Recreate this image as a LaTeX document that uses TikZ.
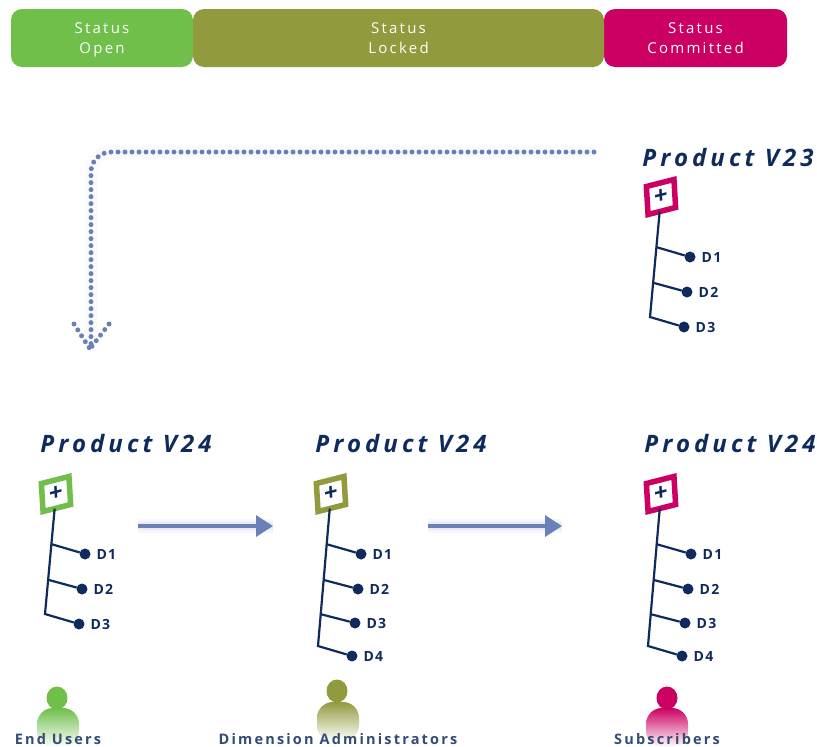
\documentclass[tikz,border=0pt]{standalone}
\usepackage{fontspec}
\setmainfont{Open Sans}
\newfontfamily\statusfont[LetterSpace=15]{Open Sans}
\newfontfamily\titlefont[LetterSpace=17]{Open Sans}
\newfontfamily\leaffont[LetterSpace=10]{Open Sans}
\newfontfamily\userfont[LetterSpace=15]{Open Sans}
\usetikzlibrary{arrows.meta,positioning,shapes.geometric}

\definecolor{openc}{HTML}{6FBF4A}
\definecolor{lockedc}{HTML}{919A3D}
\definecolor{committedc}{HTML}{CC0063}
\definecolor{navyc}{HTML}{0F2B5E}
\definecolor{flowc}{HTML}{6C80B8}

\begin{document}
\begin{tikzpicture}[x=1pt,y=-1pt,auto]

        \useasboundingbox (0,0) rectangle (817,747);

        \tikzstyle{every node}=[inner sep=0pt,outer sep=0pt]
        \tikzstyle{status}=[shape=rectangle,rounded corners=11pt,minimum height=58pt,align=center,text=white,font=\statusfont\fontsize{15}{20}\selectfont]
        \tikzstyle{title}=[text=navyc,font=\titlefont\fontsize{24}{26}\selectfont\bfseries\itshape]
        \tikzstyle{plus}=[shape=rectangle,draw,line width=5.5pt,fill=white,minimum size=28pt,xslant=-0.06,yslant=0.25,text=navyc,font=\fontsize{24}{24}\selectfont\bfseries]
        \tikzstyle{leaf}=[shape=circle,fill=navyc,minimum size=11pt]
        \tikzstyle{leaftext}=[text=navyc,font=\leaffont\fontsize{14}{16}\selectfont\bfseries]
        \tikzstyle{stem}=[draw=navyc,line width=2.2pt]
        \tikzstyle{flow}=[draw=flowc,line width=3.5pt,-{Triangle[length=17pt,width=21pt]},preaction={draw=flowc!50,line width=14pt,opacity=.12,-},preaction={draw=flowc!50,line width=8pt,opacity=.2,-}]
        \tikzstyle{dots}=[draw=flowc,line width=5pt,line cap=round,dash pattern=on 0pt off 7pt,rounded corners=20pt]
        \tikzstyle{userhead}=[shape=ellipse,minimum width=21pt,minimum height=23pt]
        \tikzstyle{userbody}=[shape=rectangle,rounded corners=16pt,minimum width=42pt,minimum height=39pt]
        \tikzstyle{username}=[text=navyc!85,font=\userfont\fontsize{14.5}{16}\selectfont\bfseries]

        % status bar
        \node[status,fill=openc,minimum width=182pt] (open) at (102,38) {Status\\\smash{Open}};
        \node[status,fill=committedc,minimum width=183pt] (committed) at (695.5,38) {Status\\Committed};
        \node[status,fill=lockedc,minimum width=411pt] (locked) at (398.5,38) {Status\\Locked};

        % V23
        \node[title] (T) at (728,157) {Product V23};
        \node[plus,draw=committedc] (P) at (661,197) {+};
        \coordinate (Pj1) at (656,247);
        \coordinate (Pj2) at (654,283);
        \coordinate (Pj3) at (650,317);
        \node[leaf] (P1) at (690,257) {};
        \node[leaf] (P2) at (687,292) {};
        \node[leaf] (P3) at (684,327) {};
        \node[leaftext] (P1t) [right=6pt of P1] {D1};
        \node[leaftext] (P2t) [right=6pt of P2] {D2};
        \node[leaftext] (P3t) [right=6pt of P3] {D3};
        \path [stem] (P) -- (Pj3) -- (P3);
        \path [stem] (Pj1) -- (P1);
        \path [stem] (Pj2) -- (P2);

        % V24 open
        \node[title] (TA) at (126,443) {Product V24};
        \node[plus,draw=openc] (A) at (56,494) {+};
        \coordinate (Aj1) at (51,544);
        \coordinate (Aj2) at (49,580);
        \coordinate (Aj3) at (45,614);
        \node[leaf] (A1) at (85,554) {};
        \node[leaf] (A2) at (82,589) {};
        \node[leaf] (A3) at (79,624) {};
        \node[leaftext] (A1t) [right=6pt of A1] {D1};
        \node[leaftext] (A2t) [right=6pt of A2] {D2};
        \node[leaftext] (A3t) [right=6pt of A3] {D3};
        \path [stem] (A) -- (Aj3) -- (A3);
        \path [stem] (Aj1) -- (A1);
        \path [stem] (Aj2) -- (A2);

        % V24 locked
        \node[title] (TB) at (401,443) {Product V24};
        \node[plus,draw=lockedc] (B) at (331,494) {+};
        \coordinate (Bj1) at (326,544);
        \coordinate (Bj2) at (324,580);
        \coordinate (Bj3) at (320,614);
        \coordinate (Bj4) at (318,646);
        \node[leaf] (B1) at (361,554) {};
        \node[leaf] (B2) at (358,589) {};
        \node[leaf] (B3) at (355,623) {};
        \node[leaf] (B4) at (352,656) {};
        \node[leaftext] (B1t) [right=6pt of B1] {D1};
        \node[leaftext] (B2t) [right=6pt of B2] {D2};
        \node[leaftext] (B3t) [right=6pt of B3] {D3};
        \node[leaftext] (B4t) [right=6pt of B4] {D4};
        \path [stem] (B) -- (Bj4) -- (B4);
        \path [stem] (Bj1) -- (B1);
        \path [stem] (Bj2) -- (B2);
        \path [stem] (Bj3) -- (B3);

        % V24 committed
        \node[title] (TC) at (730,443) {Product V24};
        \node[plus,draw=committedc] (C) at (661,494) {+};
        \coordinate (Cj1) at (656,544);
        \coordinate (Cj2) at (654,580);
        \coordinate (Cj3) at (650,614);
        \coordinate (Cj4) at (648,646);
        \node[leaf] (C1) at (691,554) {};
        \node[leaf] (C2) at (688,589) {};
        \node[leaf] (C3) at (685,623) {};
        \node[leaf] (C4) at (682,656) {};
        \node[leaftext] (C1t) [right=6pt of C1] {D1};
        \node[leaftext] (C2t) [right=6pt of C2] {D2};
        \node[leaftext] (C3t) [right=6pt of C3] {D3};
        \node[leaftext] (C4t) [right=6pt of C4] {D4};
        \path [stem] (C) -- (Cj4) -- (C4);
        \path [stem] (Cj1) -- (C1);
        \path [stem] (Cj2) -- (C2);
        \path [stem] (Cj3) -- (C3);

        % flow arrows
        \coordinate (F1s) at (138,526);
        \coordinate (F1e) at (273,526);
        \coordinate (F2s) at (428,526);
        \coordinate (F2e) at (562,526);
        \path [flow] (F1s) -- (F1e);
        \path [flow] (F2s) -- (F2e);

        % dotted return arrow
        \coordinate (Rs) at (594,152);
        \coordinate (Rc) at (91,152);
        \coordinate (Re) at (91,345);
        \coordinate (Rl) at (74,324);
        \coordinate (Rt) at (90,349);
        \coordinate (Rr) at (109,324);
        \path [draw=flowc!30,line width=13pt,opacity=.12,rounded corners=20pt] (Rs) -- (Rc) -- (Re);
        \path [dots] (Rs) -- (Rc) -- (Re);
        \path [dots,rounded corners=0pt] (Rl) -- (Rt);
        \path [dots,rounded corners=0pt] (Rr) -- (Rt);

        % users
        \node[userbody,top color=openc,middle color=openc!80,bottom color=white] (UAb) at (58,727.5) {};
        \node[userhead,fill=openc] (UAh) at (57,698) {};
        \node[userbody,top color=lockedc,middle color=lockedc!80,bottom color=white] (UBb) at (338,721.5) {};
        \node[userhead,fill=lockedc] (UBh) at (337,691) {};
        \node[userbody,top color=committedc,middle color=committedc!80,bottom color=white] (UCb) at (667,727.5) {};
        \node[userhead,fill=committedc] (UCh) at (667,698) {};
        \node[username] (UAt) at (58,739) {End Users};
        \node[username] (UBt) at (338,739) {Dimension Administrators};
        \node[username] (UCt) at (667,739) {Subscribers};

\end{tikzpicture}
\end{document}
